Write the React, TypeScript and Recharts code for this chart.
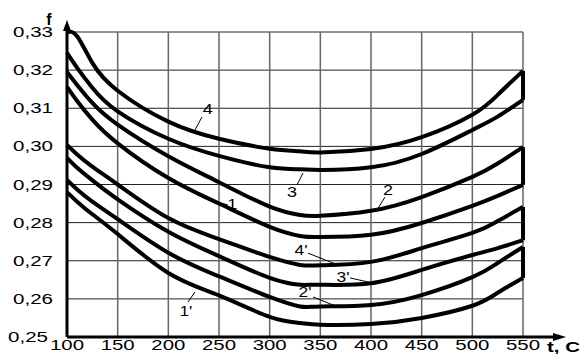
import React from "react";
import {
  LineChart,
  Line,
  XAxis,
  YAxis,
  CartesianGrid,
  ReferenceLine,
  ReferenceDot,
} from "recharts";

// temperature, C
const temps = [100, 110, 125, 150, 200, 250, 300, 330, 350, 400, 450, 500, 525, 550];

// friction coefficient f
const curve4 = [0.33, 0.3289, 0.3219, 0.3146, 0.3065, 0.302, 0.2994, 0.2987, 0.2984, 0.2993, 0.3024, 0.3083, 0.3135, 0.3198];
const curve3 = [0.3245, 0.3206, 0.3154, 0.3092, 0.302, 0.2975, 0.2945, 0.294, 0.2938, 0.2945, 0.298, 0.3043, 0.3078, 0.3122];
const curve2 = [0.3195, 0.3161, 0.3114, 0.3057, 0.2974, 0.2906, 0.2842, 0.282, 0.2818, 0.2831, 0.2867, 0.292, 0.2955, 0.2998];
const curve1 = [0.3156, 0.3119, 0.307, 0.3008, 0.2917, 0.285, 0.2789, 0.2765, 0.2762, 0.2768, 0.2799, 0.2844, 0.287, 0.2899];
const curve4p = [0.3004, 0.2979, 0.2947, 0.29, 0.2812, 0.2757, 0.271, 0.2689, 0.2688, 0.2697, 0.2733, 0.2773, 0.2804, 0.2841];
const curve3p = [0.297, 0.2944, 0.2911, 0.2861, 0.2776, 0.2712, 0.2655, 0.2637, 0.2637, 0.2641, 0.2676, 0.2715, 0.2733, 0.2754];
const curve2p = [0.2912, 0.2887, 0.2855, 0.2809, 0.2721, 0.2659, 0.2605, 0.258, 0.258, 0.2584, 0.261, 0.2657, 0.2694, 0.2736];
const curve1p = [0.288, 0.2855, 0.2822, 0.277, 0.2668, 0.2609, 0.2553, 0.2537, 0.2532, 0.2534, 0.255, 0.2582, 0.2616, 0.2655];

const xTicks = [100, 150, 200, 250, 300, 350, 400, 450, 500, 550];
const yTicks = [0.25, 0.26, 0.27, 0.28, 0.29, 0.3, 0.31, 0.32, 0.33];

// curve labels with their leader lines (in t / f units)
const curveLabels = [
  { text: "4", t: 239, f: 0.3098, from: [233.2, 0.3077], to: [226.3, 0.3043] },
  { text: "3", t: 322, f: 0.288, from: [332.9, 0.293], to: [327, 0.2899] },
  { text: "2", t: 416.8, f: 0.2886, from: [413.8, 0.2867], to: [405.9, 0.2833] },
  { text: "1", t: 263, f: 0.2849, from: [258.9, 0.2846], to: [234, 0.2866] },
  { text: "4'", t: 331, f: 0.2728, from: [337.8, 0.272], to: [364.5, 0.2692] },
  { text: "3'", t: 372.4, f: 0.2657, from: [379.3, 0.2655], to: [401, 0.2642] },
  { text: "2'", t: 335, f: 0.2618, from: [342.8, 0.2605], to: [362.5, 0.2584] },
  { text: "1'", t: 217.4, f: 0.2568, from: [219.4, 0.2592], to: [226.3, 0.2618] },
];

const toPoints = (fs: number[]) => temps.map((t, i) => ({ t, f: fs[i] }));

const series = [
  { name: "4", data: toPoints(curve4) },
  { name: "3", data: toPoints(curve3) },
  { name: "2", data: toPoints(curve2) },
  { name: "1", data: toPoints(curve1) },
  { name: "4'", data: toPoints(curve4p) },
  { name: "3'", data: toPoints(curve3p) },
  { name: "2'", data: toPoints(curve2p) },
  { name: "1'", data: toPoints(curve1p) },
];

// curve pairs joined by a vertical stroke at 550 C
const endPairs = [
  [curve4, curve3],
  [curve2, curve1],
  [curve4p, curve3p],
  [curve2p, curve1p],
];

const FONT = "'Liberation Sans', Arial, sans-serif";

function XTick({ x, y, payload }: any) {
  return (
    <text
      x={x}
      y={y + 13}
      textAnchor="middle"
      fontFamily={FONT}
      fontSize={14}
      fill="#000"
      textLength={34}
      lengthAdjust="spacingAndGlyphs"
    >
      {payload.value}
    </text>
  );
}

function YTick({ x, y, payload }: any) {
  const low = payload.value < 0.255;
  const label = Number(payload.value).toFixed(2).replace(".", ",");
  return (
    <text
      x={x - (low ? 19 : 14)}
      y={y + 5}
      textAnchor="end"
      fontFamily={FONT}
      fontSize={14}
      fill="#000"
      textLength={40}
      lengthAdjust="spacingAndGlyphs"
    >
      {label}
    </text>
  );
}

function XArrow(props: any) {
  const vb = props.viewBox || {};
  const { x = 0, y = 0, width = 0 } = vb;
  const end = x + width;
  return (
    <g>
      <line x1={end} y1={y} x2={end + 32} y2={y} stroke="#000" strokeWidth={3} />
      <polygon points={`${end + 43},${y} ${end + 30},${y - 4} ${end + 30},${y + 4}`} fill="#000" />
      <text
        x={end + 24}
        y={y + 15}
        fontFamily={FONT}
        fontSize={15}
        fontWeight="bold"
        fill="#000"
        textLength={33}
        lengthAdjust="spacingAndGlyphs"
      >
        t, C
      </text>
    </g>
  );
}

function YArrow(props: any) {
  const vb = props.viewBox || {};
  const { x = 0, y = 0, width = 0 } = vb;
  const ax = x + width;
  return (
    <g>
      <line x1={ax} y1={y} x2={ax} y2={y - 4} stroke="#000" strokeWidth={3} />
      <polygon points={`${ax},${y - 12} ${ax - 4},${y - 1} ${ax + 4},${y - 1}`} fill="#000" />
      <text x={ax - 18} y={y - 7} textAnchor="middle" fontFamily={FONT} fontSize={16} fontWeight="bold" fill="#000">
        f
      </text>
    </g>
  );
}

const labelShape = (text: string) => (p: any) => (
  <text
    x={p.cx}
    y={p.cy + 5}
    textAnchor="middle"
    fontFamily={FONT}
    fontSize={15}
    fill="#000"
    textLength={text.length > 1 ? 13 : 10}
    lengthAdjust="spacingAndGlyphs"
  >
    {text}
  </text>
);

export default function App() {
  return (
    <div style={{ position: "absolute", left: 0, top: 0, width: 581, height: 354, background: "#fff" }}>
      <LineChart width={581} height={354} margin={{ top: 32, right: 58, bottom: 0, left: 0 }}>
        <CartesianGrid horizontal={true} vertical={false} stroke="#222" strokeWidth={1} />
        <CartesianGrid horizontal={false} vertical={true} stroke="#666" strokeWidth={1.5} />
        <XAxis
          type="number"
          dataKey="t"
          domain={[100, 550]}
          ticks={xTicks}
          allowDuplicatedCategory={false}
          height={17}
          tickSize={0}
          tickMargin={0}
          tickLine={false}
          axisLine={{ stroke: "#000", strokeWidth: 3 }}
          tick={<XTick />}
          label={<XArrow />}
          interval={0}
        />
        <YAxis
          type="number"
          domain={[0.25, 0.33]}
          ticks={yTicks}
          width={67}
          tickSize={0}
          tickMargin={0}
          tickLine={false}
          axisLine={{ stroke: "#000", strokeWidth: 3 }}
          tick={<YTick />}
          label={<YArrow />}
          interval={0}
        />
        {series.map((s) => (
          <Line
            key={s.name}
            data={s.data}
            dataKey="f"
            type="natural"
            stroke="#000"
            strokeWidth={4}
            dot={false}
            activeDot={false}
            isAnimationActive={false}
          />
        ))}
        {endPairs.map(([a, b], i) => (
          <ReferenceLine
            key={`end-${i}`}
            segment={[
              { x: 550, y: a[a.length - 1] },
              { x: 550, y: b[b.length - 1] },
            ]}
            stroke="#000"
            strokeWidth={4}
          />
        ))}
        {curveLabels.map((c) => (
          <ReferenceLine
            key={`lead-${c.text}`}
            segment={[
              { x: c.from[0], y: c.from[1] },
              { x: c.to[0], y: c.to[1] },
            ]}
            stroke="#000"
            strokeWidth={1}
          />
        ))}
        {curveLabels.map((c) => (
          <ReferenceDot key={`lbl-${c.text}`} x={c.t} y={c.f} r={0} shape={labelShape(c.text)} />
        ))}
      </LineChart>
    </div>
  );
}
